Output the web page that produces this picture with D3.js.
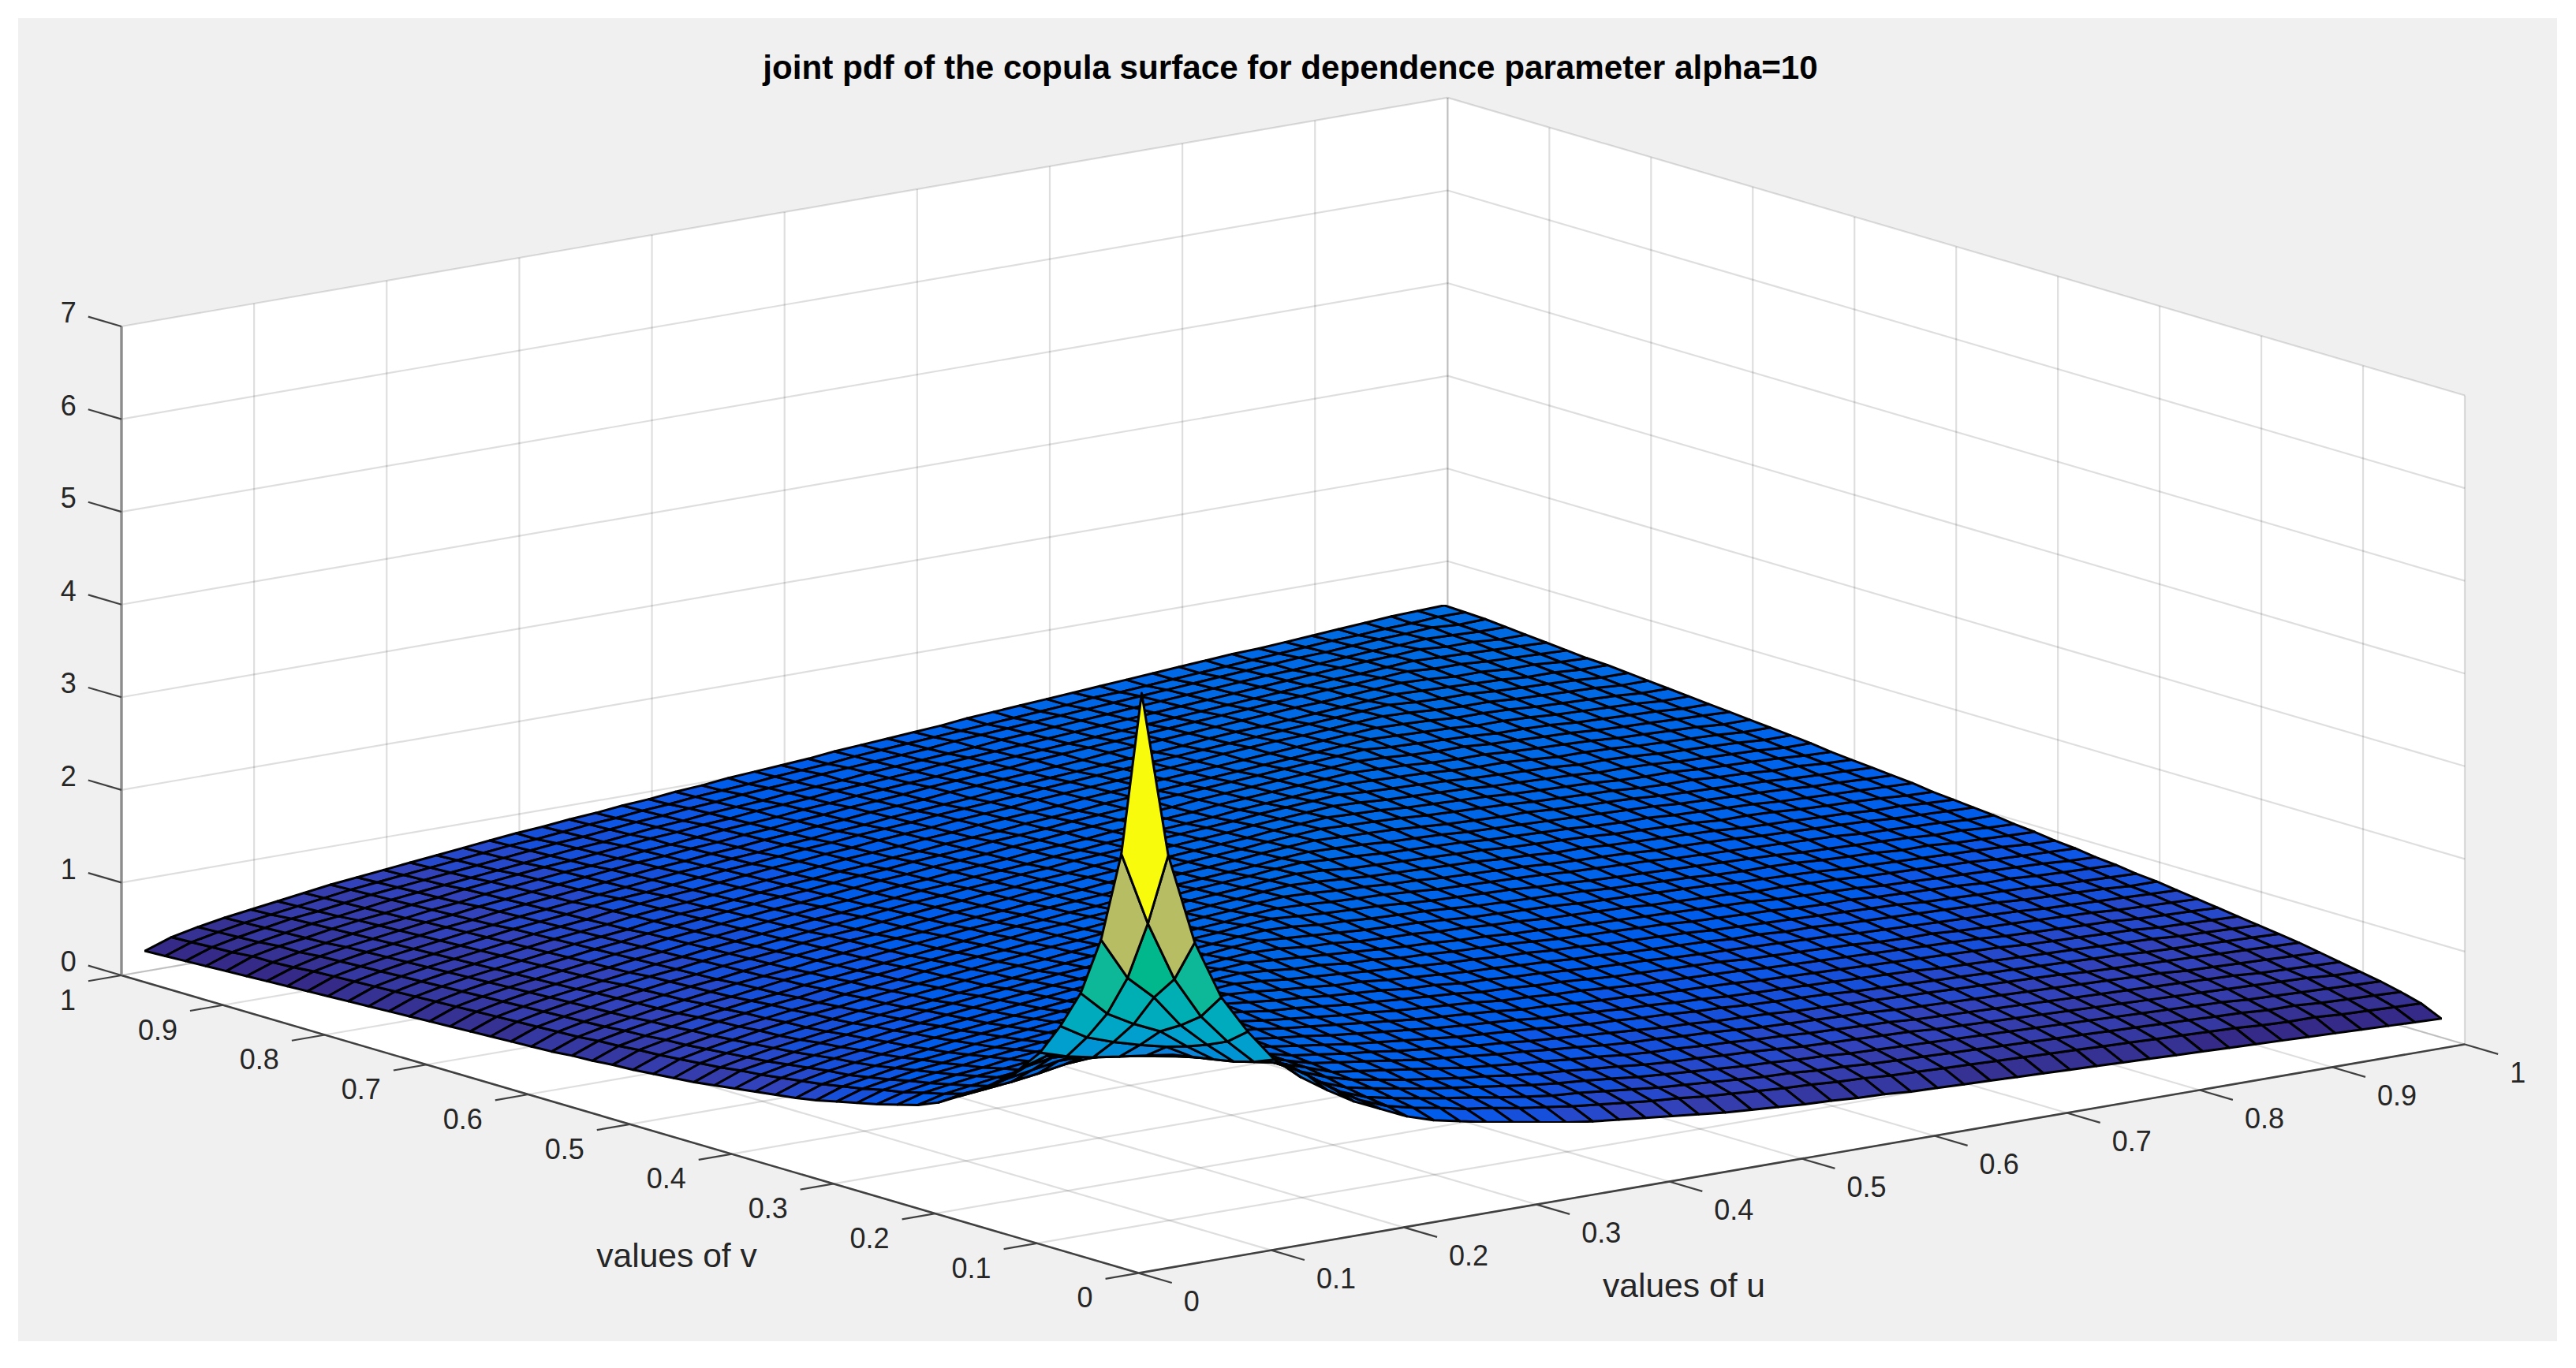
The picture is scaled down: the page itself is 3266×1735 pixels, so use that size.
<!DOCTYPE html>
<html>
<head>
<meta charset="utf-8">
<script src="https://cdnjs.cloudflare.com/ajax/libs/d3/7.8.5/d3.min.js"></script>
<style>
  html, body { margin: 0; padding: 0; background: #fff; }
  text { font-family: "Liberation Sans", Arial, sans-serif; fill: #262626; }
</style>
</head>
<body>
<div id="chart"></div>
<script>
const titleText = 'joint pdf of the copula surface for dependence parameter alpha=10'
const uLabel = 'values of u'
const vLabel = 'values of v'

const uTicks = [0, 0.1, 0.2, 0.3, 0.4, 0.5, 0.6, 0.7, 0.8, 0.9, 1]
const vTicks = [0, 0.1, 0.2, 0.3, 0.4, 0.5, 0.6, 0.7, 0.8, 0.9, 1]
const zTicks = [0, 1, 2, 3, 4, 5, 6, 7]

// sample positions of the surface, same on both axes
const gridValues = [0.01, 0.03, 0.05, 0.07, 0.09, 0.11, 0.13, 0.15, 0.17, 0.19,
  0.21, 0.23, 0.25, 0.27, 0.29, 0.31, 0.33, 0.35, 0.37, 0.39,
  0.41, 0.43, 0.45, 0.47, 0.49, 0.51, 0.53, 0.55, 0.57, 0.59,
  0.61, 0.63, 0.65, 0.67, 0.69, 0.71, 0.73, 0.75, 0.77, 0.79,
  0.81, 0.83, 0.85, 0.87, 0.89, 0.91, 0.93, 0.95, 0.97, 0.99]

// surface heights. The surface is symmetric in u and v,
// so row i only holds the columns 0..i
const zRows = [
[6.2],
[4.4,3.6],
[3.41,2.95,2.69],
[2.77,2.50,2.34,2.21],
[2.35,2.18,2.08,2.0,1.93],
[2.0,1.91,1.85,1.81,1.77,1.73],
[1.76,1.85,1.81,1.76,1.71,1.65,1.60],
[1.57,1.67,1.72,1.70,1.65,1.60,1.55,1.50],
[1.40,1.47,1.52,1.57,1.57,1.54,1.50,1.46,1.44],
[1.27,1.30,1.33,1.37,1.42,1.44,1.43,1.42,1.41,1.41],
[1.14,1.19,1.22,1.26,1.31,1.35,1.36,1.37,1.37,1.38,1.40],
[1.05,1.12,1.16,1.20,1.23,1.25,1.28,1.30,1.33,1.35,1.37,1.39],
[.99,1.07,1.11,1.15,1.18,1.21,1.24,1.26,1.29,1.31,1.34,1.36,1.38],
[.93,1.01,1.06,1.10,1.13,1.17,1.20,1.22,1.25,1.28,1.30,1.32,1.35,1.37],
[.88,.97,1.02,1.06,1.09,1.13,1.16,1.19,1.21,1.24,1.27,1.29,1.31,1.34,1.36],
[.83,.92,.97,1.02,1.05,1.09,1.12,1.15,1.18,1.21,1.24,1.26,1.29,1.31,1.34,1.36],
[.78,.88,.93,.98,1.02,1.05,1.09,1.12,1.15,1.18,1.21,1.23,1.26,1.29,1.31,1.34,1.36],
[.74,.84,.89,.94,.98,1.02,1.06,1.09,1.12,1.15,1.18,1.21,1.23,1.26,1.29,1.31,1.34,1.36],
[.71,.81,.87,.91,.95,.99,1.03,1.06,1.09,1.12,1.15,1.18,1.21,1.24,1.26,1.29,1.31,1.34,1.36],
[.68,.78,.84,.89,.93,.97,1.01,1.04,1.07,1.10,1.13,1.16,1.19,1.22,1.25,1.27,1.30,1.32,1.35,1.37],
[.65,.75,.81,.86,.90,.94,.98,1.01,1.05,1.08,1.11,1.14,1.17,1.19,1.22,1.25,1.27,1.30,1.32,1.35,1.37],
[.62,.73,.78,.83,.88,.92,.96,.99,1.03,1.06,1.09,1.12,1.15,1.18,1.20,1.23,1.26,1.28,1.31,1.33,1.36,1.38],
[.59,.70,.76,.81,.85,.89,.93,.97,1.00,1.03,1.06,1.09,1.12,1.15,1.18,1.21,1.23,1.26,1.28,1.31,1.33,1.36,1.38],
[.57,.68,.74,.79,.83,.87,.91,.95,.98,1.02,1.05,1.08,1.11,1.14,1.16,1.19,1.22,1.24,1.27,1.29,1.32,1.34,1.37,1.39],
[.55,.66,.72,.77,.82,.86,.90,.93,.97,1.00,1.03,1.06,1.09,1.12,1.15,1.18,1.20,1.23,1.26,1.28,1.30,1.33,1.35,1.38,1.40],
[.53,.64,.70,.75,.80,.84,.88,.91,.95,.98,1.01,1.05,1.08,1.11,1.13,1.16,1.19,1.21,1.24,1.27,1.29,1.32,1.34,1.36,1.39,1.41],
[.52,.63,.69,.74,.79,.83,.87,.90,.94,.97,1.00,1.03,1.06,1.09,1.12,1.15,1.18,1.20,1.23,1.25,1.28,1.30,1.33,1.35,1.37,1.40,1.42],
[.50,.61,.67,.72,.77,.81,.85,.88,.92,.95,.98,1.01,1.04,1.07,1.10,1.13,1.16,1.18,1.21,1.23,1.26,1.28,1.31,1.33,1.35,1.37,1.40,1.42],
[.49,.60,.66,.71,.75,.80,.83,.87,.91,.94,.97,1.00,1.03,1.06,1.09,1.12,1.14,1.17,1.20,1.22,1.24,1.27,1.29,1.32,1.34,1.36,1.39,1.41,1.43],
[.47,.58,.64,.69,.74,.78,.82,.86,.89,.92,.96,.99,1.02,1.05,1.07,1.10,1.13,1.15,1.18,1.21,1.23,1.26,1.28,1.30,1.33,1.35,1.37,1.40,1.42,1.44],
[.46,.57,.63,.68,.73,.77,.81,.84,.88,.91,.95,.98,1.01,1.03,1.06,1.09,1.12,1.14,1.17,1.20,1.22,1.25,1.27,1.29,1.32,1.34,1.36,1.38,1.41,1.43,1.45],
[.45,.56,.62,.67,.72,.76,.80,.83,.87,.90,.93,.97,1.00,1.02,1.05,1.08,1.11,1.13,1.16,1.18,1.21,1.23,1.26,1.28,1.31,1.33,1.35,1.37,1.40,1.42,1.44,1.46],
[.44,.55,.61,.66,.71,.75,.79,.82,.86,.89,.92,.95,.98,1.01,1.04,1.07,1.10,1.12,1.15,1.17,1.20,1.22,1.25,1.27,1.29,1.32,1.34,1.36,1.38,1.41,1.43,1.45,1.47],
[.43,.54,.60,.65,.69,.73,.77,.81,.84,.88,.91,.94,.97,1.00,1.02,1.05,1.08,1.11,1.13,1.16,1.18,1.20,1.23,1.25,1.28,1.30,1.32,1.34,1.36,1.39,1.41,1.43,1.45,1.47],
[.42,.53,.59,.64,.68,.72,.76,.80,.83,.87,.90,.93,.96,.99,1.02,1.04,1.07,1.10,1.12,1.15,1.17,1.19,1.22,1.24,1.26,1.29,1.31,1.33,1.35,1.38,1.40,1.42,1.44,1.46,1.48],
[.41,.52,.58,.63,.67,.71,.75,.79,.82,.86,.89,.92,.95,.98,1.00,1.03,1.06,1.09,1.11,1.14,1.16,1.18,1.21,1.23,1.26,1.28,1.30,1.32,1.34,1.37,1.39,1.41,1.43,1.45,1.47,1.49],
[.40,.51,.57,.62,.66,.70,.74,.78,.81,.85,.88,.91,.94,.97,1.00,1.02,1.05,1.08,1.10,1.13,1.15,1.17,1.20,1.22,1.24,1.27,1.29,1.31,1.34,1.36,1.38,1.40,1.42,1.44,1.46,1.48,1.50],
[.39,.50,.56,.61,.65,.69,.73,.77,.80,.83,.87,.90,.92,.95,.98,1.01,1.03,1.06,1.08,1.11,1.13,1.16,1.18,1.20,1.23,1.25,1.27,1.30,1.32,1.34,1.36,1.38,1.40,1.42,1.44,1.46,1.48,1.50],
[.38,.49,.55,.60,.64,.68,.72,.76,.79,.82,.86,.89,.91,.94,.97,1.00,1.02,1.05,1.08,1.10,1.12,1.15,1.17,1.20,1.22,1.24,1.26,1.29,1.31,1.33,1.35,1.37,1.39,1.41,1.43,1.45,1.47,1.49,1.51],
[.37,.48,.54,.59,.63,.67,.71,.75,.78,.81,.85,.88,.91,.93,.96,.99,1.02,1.04,1.07,1.09,1.12,1.14,1.16,1.19,1.21,1.23,1.26,1.28,1.30,1.32,1.34,1.36,1.38,1.41,1.43,1.45,1.46,1.48,1.50,1.52],
[.36,.47,.53,.58,.62,.66,.70,.74,.77,.80,.84,.87,.89,.92,.95,.98,1.00,1.03,1.06,1.08,1.11,1.13,1.15,1.18,1.20,1.22,1.24,1.27,1.29,1.31,1.33,1.35,1.37,1.39,1.41,1.43,1.45,1.47,1.49,1.51,1.53],
[.35,.46,.52,.57,.61,.65,.69,.72,.76,.79,.82,.85,.88,.91,.94,.96,.99,1.01,1.04,1.06,1.09,1.11,1.14,1.16,1.18,1.20,1.23,1.25,1.27,1.29,1.31,1.33,1.35,1.37,1.40,1.42,1.43,1.45,1.47,1.49,1.51,1.53],
[.34,.45,.51,.56,.60,.64,.68,.71,.75,.78,.81,.84,.87,.90,.93,.95,.98,1.00,1.03,1.05,1.08,1.10,1.13,1.15,1.17,1.20,1.22,1.24,1.26,1.28,1.30,1.33,1.35,1.37,1.39,1.41,1.43,1.45,1.47,1.48,1.50,1.52,1.54],
[.33,.43,.50,.55,.59,.63,.67,.70,.74,.77,.80,.83,.86,.89,.92,.94,.97,.99,1.02,1.04,1.07,1.09,1.12,1.14,1.16,1.19,1.21,1.23,1.25,1.28,1.30,1.32,1.34,1.36,1.38,1.40,1.42,1.44,1.46,1.48,1.50,1.51,1.53,1.55],
[.32,.42,.48,.53,.58,.62,.65,.69,.72,.76,.79,.82,.85,.87,.90,.93,.95,.98,1.01,1.03,1.05,1.08,1.10,1.13,1.15,1.17,1.19,1.22,1.24,1.26,1.28,1.30,1.32,1.34,1.36,1.38,1.40,1.42,1.44,1.46,1.48,1.50,1.51,1.53,1.55],
[.31,.42,.48,.52,.57,.61,.64,.68,.71,.75,.78,.81,.84,.86,.89,.92,.95,.97,1.00,1.02,1.05,1.07,1.09,1.12,1.14,1.16,1.18,1.21,1.23,1.25,1.27,1.29,1.31,1.33,1.35,1.37,1.39,1.41,1.43,1.45,1.47,1.49,1.51,1.53,1.54,1.56],
[.30,.40,.46,.51,.56,.59,.63,.67,.70,.73,.76,.79,.82,.85,.88,.90,.93,.96,.98,1.01,1.03,1.05,1.08,1.10,1.12,1.15,1.17,1.19,1.21,1.23,1.26,1.28,1.30,1.32,1.34,1.36,1.38,1.40,1.42,1.44,1.46,1.47,1.49,1.51,1.53,1.54,1.56],
[.29,.39,.45,.50,.55,.58,.62,.66,.69,.72,.75,.78,.81,.84,.87,.89,.92,.95,.97,1.00,1.02,1.05,1.07,1.09,1.12,1.14,1.16,1.18,1.20,1.23,1.25,1.27,1.29,1.31,1.33,1.35,1.37,1.39,1.41,1.43,1.45,1.47,1.49,1.50,1.52,1.54,1.55,1.57],
[.28,.38,.44,.49,.53,.57,.61,.65,.68,.71,.74,.77,.80,.83,.85,.88,.91,.93,.96,.98,1.01,1.03,1.05,1.08,1.10,1.12,1.15,1.17,1.19,1.21,1.23,1.25,1.27,1.29,1.31,1.34,1.35,1.37,1.39,1.41,1.43,1.45,1.47,1.49,1.51,1.52,1.54,1.55,1.57],
[.27,.37,.43,.48,.52,.56,.60,.64,.67,.70,.73,.76,.79,.82,.85,.87,.90,.92,.95,.97,1.00,1.02,1.05,1.07,1.09,1.11,1.14,1.16,1.18,1.20,1.22,1.25,1.27,1.29,1.31,1.33,1.35,1.37,1.39,1.41,1.43,1.45,1.46,1.48,1.50,1.52,1.54,1.56,1.57,1.58]
]

// colormap of the surface, blues and greens as they look in the picture
const colormap = [[.2081,.1663,.5292],[.2116,.1898,.5777],[.2123,.2138,.6270],[.2081,.2386,.6771],
  [.1959,.2645,.7279],[.1500,.2850,.8000],[.0900,.3150,.8500],[.0300,.3400,.9000],
  [0,.3600,.9200],[0,.3750,.9200],[0,.3900,.9200],[0,.4000,.9100],
  [0,.4100,.9000],[0,.4200,.8900],[.0100,.4300,.8900],[.0200,.4400,.8800],
  [.0300,.4600,.8700],[.0300,.4900,.8600],[.0300,.5200,.8500],[.0200,.5500,.8400],
  [.0100,.5800,.8300],[0,.6050,.8200],[0,.6250,.8050],[0,.6400,.7900],
  [0,.6500,.7750],[0,.6600,.7600],[0,.6700,.7400],[0,.6800,.7200],
  [0,.6880,.7000],[0,.6950,.6800],[0,.7000,.6600],[0,.7100,.6400],
  [.0100,.7150,.6200],[.0300,.7200,.6000],[.0400,.7200,.5800],[.0200,.7200,.5500],
  [.0500,.7250,.5300],[.1500,.7300,.5000],[.2800,.7350,.4840],[.4000,.7400,.4661],
  [.5000,.7400,.4494],[.5700,.7400,.4337],[.6300,.7400,.4188],[.6900,.7350,.4100],
  [.7184,.7411,.3905],[.7525,.7384,.3768],[.7858,.7356,.3633],[.8185,.7327,.3498],
  [.8507,.7299,.3360],[.8824,.7274,.3217],[.9139,.7258,.3063],[.9450,.7261,.2886],
  [.9739,.7314,.2666],[.9938,.7455,.2403],[.9990,.7653,.2164],[.9955,.7861,.1967],
  [.9880,.8066,.1794],[.9789,.8271,.1633],[.9697,.8481,.1475],[.9626,.8705,.1309],
  [.9589,.8949,.1132],[.9598,.9218,.0948],[.9661,.9514,.0755],[.9763,.9831,.0538]]

const width = 3266
const height = 1735
const origin = { x: 1443.6, y: 1614.6 }

// axes of the fixed 3D view, each one a pixel offset along screen x and y
const uX = d3.scaleLinear().domain([0, 1]).range([0, 1681.4])
const uY = d3.scaleLinear().domain([0, 1]).range([0, -290.1])
const vX = d3.scaleLinear().domain([0, 1]).range([0, -1289.6])
const vY = d3.scaleLinear().domain([0, 1]).range([0, -377.6])
const zY = d3.scaleLinear().domain([0, 7]).range([0, -823])

const project = (u, v, z) => [
  origin.x + uX(u) + vX(v),
  origin.y + uY(u) + vY(v) + zY(z)
]

// larger means closer to the viewer
const nearness = (u, v, z) => -151657 * u - 197733 * v + 1009000 * z

const zAt = (i, j) => i >= j ? zRows[i][j] : zRows[j][i]

const color = d3.scaleQuantize()
  .domain(d3.extent(zRows.flat()))
  .range(colormap.map(c => d3.rgb(c[0] * 255, c[1] * 255, c[2] * 255).formatHex()))

const svg = d3.select('#chart').append('svg')
  .attr('width', width)
  .attr('height', height)
  .style('display', 'block')

// the picture is slightly soft, mostly visible on the mesh
svg.append('defs').append('filter')
  .attr('id', 'soft')
  .attr('x', 0).attr('y', 0).attr('width', 1).attr('height', 1)
  .append('feGaussianBlur')
  .attr('stdDeviation', 0.6)

const polyPath = pts => d3.line()(pts) + 'Z'

// figure background
svg.append('rect')
  .attr('x', 23).attr('y', 23)
  .attr('width', 3219).attr('height', 1678)
  .attr('fill', '#f0f0f0')

// white box walls and floor
const panes = [
  [[0, 1, 0], [1, 1, 0], [1, 1, 7], [0, 1, 7]],
  [[1, 1, 0], [1, 0, 0], [1, 0, 7], [1, 1, 7]],
  [[0, 0, 0], [1, 0, 0], [1, 1, 0], [0, 1, 0]]
]
svg.append('g').selectAll('path')
  .data(panes)
  .join('path')
  .attr('d', d => polyPath(d.map(p => project(p[0], p[1], p[2]))))
  .attr('fill', '#fff')

// grid lines
const gridLines = []
uTicks.forEach(u => {
  gridLines.push([[u, 0, 0], [u, 1, 0]])
  gridLines.push([[u, 1, 0], [u, 1, 7]])
})
vTicks.forEach(v => {
  gridLines.push([[0, v, 0], [1, v, 0]])
  gridLines.push([[1, v, 0], [1, v, 7]])
})
zTicks.forEach(z => {
  gridLines.push([[0, 1, z], [1, 1, z]])
  gridLines.push([[1, 1, z], [1, 0, z]])
})
svg.append('g').selectAll('path')
  .data(gridLines)
  .join('path')
  .attr('d', d => d3.line()(d.map(p => project(p[0], p[1], p[2]))))
  .attr('fill', 'none')
  .attr('stroke', '#000')
  .attr('stroke-opacity', 0.13)
  .attr('stroke-width', 2.2)

// surface cells, far ones first. A cell takes its colour from its first corner
const cells = []
for (let i = 0; i < gridValues.length - 1; i++) {
  for (let j = 0; j < gridValues.length - 1; j++) {
    const corners = [[i, j], [i + 1, j], [i + 1, j + 1], [i, j + 1]]
      .map(c => [gridValues[c[0]], gridValues[c[1]], zAt(c[0], c[1])])
    cells.push({
      corners: corners,
      z: zAt(i, j),
      near: d3.mean(corners, c => nearness(c[0], c[1], c[2]))
    })
  }
}
cells.sort((a, b) => d3.ascending(a.near, b.near))

svg.append('g')
  .attr('filter', 'url(#soft)')
  .selectAll('path')
  .data(cells)
  .join('path')
  .attr('d', d => polyPath(d.corners.map(c => project(c[0], c[1], c[2]))))
  .attr('fill', d => color(d.z))
  .attr('stroke', '#000')
  .attr('stroke-width', 3)
  .attr('stroke-linejoin', 'round')

// axis lines and ticks
const axisColor = '#404040'
const tickLen = 0.0327
const axisG = svg.append('g')

const addLine = (a, b, stroke, w) => axisG.append('path')
  .attr('d', d3.line()([a, b]))
  .attr('stroke', stroke)
  .attr('stroke-width', w)
  .attr('fill', 'none')

addLine(project(0, 0, 0), project(1, 0, 0), axisColor, 2.6)
addLine(project(0, 0, 0), project(0, 1, 0), axisColor, 2.6)
addLine(project(0, 1, 0), project(0, 1, 7), '#8c8c8c', 3.4)

const tickLabel = (p, dx, dy, anchor, s) => svg.append('text')
  .attr('x', p[0] + dx)
  .attr('y', p[1] + dy)
  .attr('text-anchor', anchor)
  .attr('dominant-baseline', 'central')
  .attr('font-size', 36)
  .text(s)

uTicks.forEach(u => {
  const end = project(u, -tickLen, 0)
  addLine(project(u, 0, 0), end, axisColor, 2.2)
  tickLabel(end, 15, 24, 'start', d3.format('~g')(u))
})
vTicks.forEach(v => {
  const end = project(-0.025, v, 0)
  addLine(project(0, v, 0), end, axisColor, 2.2)
  tickLabel(end, -16, 24, 'end', d3.format('~g')(v))
})
zTicks.forEach(z => {
  const end = project(0, 1 + tickLen, z)
  addLine(project(0, 1, z), end, axisColor, 2.2)
  tickLabel(end, -15, -5, 'end', d3.format('d')(z))
})

// labels and title
svg.append('text')
  .attr('x', 2135).attr('y', 1630)
  .attr('text-anchor', 'middle')
  .attr('dominant-baseline', 'central')
  .attr('font-size', 42.6)
  .text(uLabel)

svg.append('text')
  .attr('x', 858).attr('y', 1592)
  .attr('text-anchor', 'middle')
  .attr('dominant-baseline', 'central')
  .attr('font-size', 42.6)
  .text(vLabel)

svg.append('text')
  .attr('x', 1636).attr('y', 100)
  .attr('text-anchor', 'middle')
  .attr('font-size', 42.2)
  .attr('font-weight', 'bold')
  .style('fill', '#000')
  .text(titleText)
</script>
</body>
</html>
